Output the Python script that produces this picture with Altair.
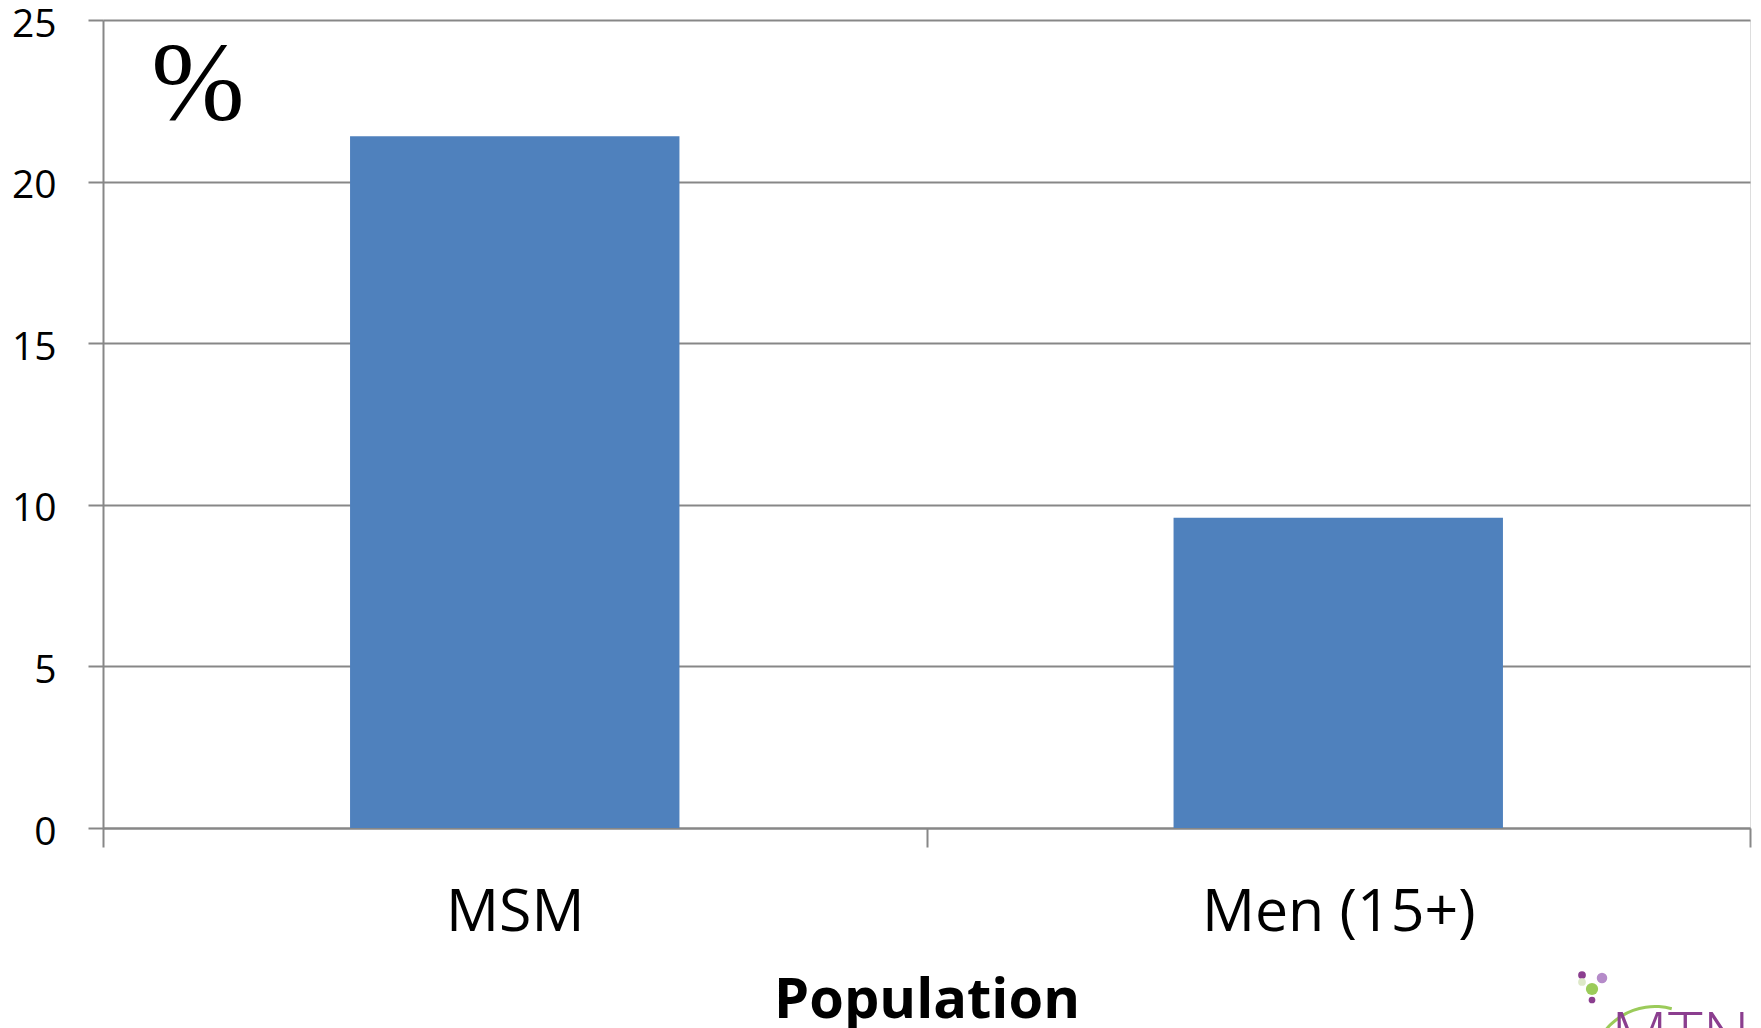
import altair as alt
import pandas as pd

categories = ["MSM", "Men (15+)"]
values = [21.4, 9.6]
y_ticks = [0, 5, 10, 15, 20, 25]

df = pd.DataFrame({"Population": categories, "value": values})

GRAY = "#878787"
FONT = "Open Sans"

bars = alt.Chart(df).mark_bar(color="#4F81BD", width=alt.RelativeBandSize(0.4)).encode(
    x=alt.X(
        "Population:N",
        sort=categories,
        scale=alt.Scale(paddingInner=0, paddingOuter=0),
        axis=alt.Axis(
            title="Population",
            titleFont=FONT,
            titleFontSize=56,
            titleFontWeight="bold",
            titleColor="black",
            titleBaseline="alphabetic",
            titleY=189,
            titleX=823.5,
            titleAlign="center",
            labelFont=FONT,
            labelFontSize=59,
            labelColor="black",
            labelBaseline="alphabetic",
            labelPadding=83,
            labelAngle=0,
            labelLimit=0,
            tickBand="extent",
            tickSize=19,
            tickColor=GRAY,
            tickWidth=2,
            domainColor=GRAY,
            domainWidth=2,
            grid=False,
        ),
    ),
    y=alt.Y(
        "value:Q",
        scale=alt.Scale(domain=[0, 25], nice=False),
        axis=alt.Axis(
            title=None,
            values=y_ticks,
            labelFont=FONT,
            labelFontSize=39,
            labelColor="black",
            labelPadding=32,
            labelOffset=4,
            tickSize=15,
            tickColor=GRAY,
            tickWidth=2,
            domainColor=GRAY,
            domainWidth=2,
            grid=True,
            gridColor=GRAY,
            gridWidth=2,
        ),
    ),
)

pct = alt.Chart(pd.DataFrame({"t": ["%"]})).mark_text(
    font="Liberation Serif", fontSize=112, color="black", align="center", baseline="alphabetic"
).encode(text="t:N", x=alt.value(95), y=alt.value(100))

logo_text = alt.Chart(pd.DataFrame({"t": ["MTN"]})).mark_text(
    font=FONT, fontSize=66, fontWeight=300, color="#8B3E8F", align="left", baseline="alphabetic"
).encode(text="t:N", x=alt.value(1508), y=alt.value(1040))

logo_arc = alt.Chart(pd.DataFrame({"t": ["a"]})).mark_arc(
    color="#9BCB5A", innerRadius=62, outerRadius=65, theta=4.9, theta2=6.55
).encode(x=alt.value(1552), y=alt.value(1050))

dots_df = pd.DataFrame({
    "px": [1479, 1499, 1489, 1489, 1479],
    "py": [955, 958, 969, 980, 962],
    "sz": [60, 110, 150, 45, 60],
    "col": ["#8B3E8F", "#B58BC9", "#9BCB5A", "#8B3E8F", "#DDE8C8"],
})
logo_dots = alt.Chart(dots_df).mark_circle(opacity=1).encode(
    x=alt.X("px:Q", scale=None),
    y=alt.Y("py:Q", scale=None),
    size=alt.Size("sz:Q", scale=None),
    color=alt.Color("col:N", scale=None),
)

chart = alt.layer(bars, pct, logo_arc, logo_dots, logo_text).properties(
    width=1647,
    height=808,
    autosize=alt.AutoSizeParams(type="none"),
    padding={"left": 95, "top": 12, "right": 3, "bottom": 200},
).configure_view(stroke=None).configure(background="white")

chart.save("out.html", embed_options={"renderer": "svg", "actions": False})
